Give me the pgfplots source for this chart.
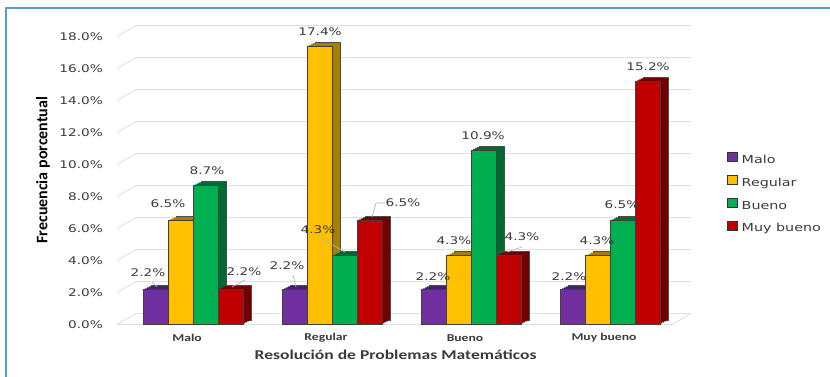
\documentclass[border=0pt]{standalone}
\usepackage{pgfplots}
\usepackage{pgfplotstable}
\pgfplotsset{compat=1.18}
\usepackage{fontspec}
\setmainfont{DejaVu Sans}
\newfontfamily\vf{DejaVu Sans}[FakeStretch=1.3]
\newfontfamily\cf{Carlito}[FakeStretch=1.3]
\newfontfamily\cfy{Carlito}

\definecolor{cpur}{HTML}{7030A0}\definecolor{dpur}{HTML}{4A1E6C}
\definecolor{cyel}{HTML}{FFC000}\definecolor{dyel}{HTML}{A87E00}
\definecolor{cgre}{HTML}{00B050}\definecolor{dgre}{HTML}{006B30}
\definecolor{cred}{HTML}{C00000}\definecolor{dred}{HTML}{730000}
\definecolor{gridc}{HTML}{DCE0E8}
\definecolor{leadc}{HTML}{A9B7C9}
\definecolor{framec}{HTML}{5B9BD5}
\definecolor{txt}{HTML}{3A3A3A}

% x = category (0 Malo, 1 Regular, 2 Bueno, 3 Muy bueno); y = percent; lx, ly = label offset (pt)
\pgfplotstableread{
x y lx ly
0 2.2 -7.5 16.3
1 2.2 -7.5 24
2 2.2 -0.5 13
3 2.2 -3.5 13
}\malo
\pgfplotstableread{
x y lx ly
0 6.5 -12.5 16.5
1 17.4 0.5 14
2 4.3 -4.5 14.7
3 4.3 -0.5 14.7
}\regular
\pgfplotstableread{
x y lx ly
0 8.7 1.5 14.3
1 4.3 -26.5 25.7
2 10.9 -0.5 14
3 6.5 -0.5 15.5
}\bueno
\pgfplotstableread{
x y lx ly
0 2.2 13.5 17.3
1 6.5 33.5 17.5
2 4.3 13.5 18.7
3 15.2 0.5 14.3
}\muybueno

\newcommand{\depth}[3]{% table, shift, dark colour
  \addplot[forget plot, fill=#3, draw=black!70, line width=0.4pt, bar shift=#2, xshift=8pt, yshift=4pt] table[x=x,y=y]{#1};
  \addplot[forget plot, fill=#3, draw=none, bar shift=#2, xshift=6pt, yshift=3pt] table[x=x,y=y]{#1};
  \addplot[forget plot, fill=#3, draw=none, bar shift=#2, xshift=4pt, yshift=2pt] table[x=x,y=y]{#1};
  \addplot[forget plot, fill=#3, draw=none, bar shift=#2, xshift=2pt, yshift=1pt] table[x=x,y=y]{#1};
}

\pgfplotsset{
  frontbar/.style={
    draw=black!75, line width=0.5pt, bar shift=#1,
    nodes near coords={\pgfmathprintnumber[fixed,fixed zerofill,precision=1]{\pgfplotspointmeta}\%},
    visualization depends on={\thisrow{lx} \as \lx},
    visualization depends on={\thisrow{ly} \as \ly},
    every node near coord/.append style={anchor=center, inner sep=0pt, xshift=\lx pt, yshift=\ly pt,
      font=\vf\fontsize{10.5}{12}\selectfont, text=txt},
  },
}

\begin{document}
\begin{tikzpicture}
\path[use as bounding box] (0,0) rectangle (830pt,377pt);
\draw[framec, line width=2pt] (6pt,0pt) -- (6pt,369pt) -- (831pt,369pt);

% back wall grid
\begin{axis}[
  at={(136pt,63.5pt)}, anchor=south west,
  scale only axis, width=555pt, height=288pt,
  xmin=-0.547, xmax=3.446, ymin=0, ymax=18,
  ytick={0,2,...,18}, yticklabels={}, xtick=\empty,
  ymajorgrids, grid style={gridc, line width=0.9pt},
  axis line style={draw=none}, major tick length=0pt,
]
\end{axis}

\begin{axis}[
  at={(117pt,52.5pt)}, anchor=south west,
  scale only axis, width=555pt, height=288pt,
  xmin=-0.547, xmax=3.446, ymin=0, ymax=18,
  ybar, bar width=25pt,
  /pgf/number format/assume math mode=true,
  axis line style={draw=none}, major tick length=0pt,
  ytick={0,2,...,18},
  yticklabel={\pgfmathprintnumber[fixed,fixed zerofill,precision=1]{\tick}\%},
  yticklabel style={anchor=east, inner sep=0pt, xshift=-14pt, font=\vf\fontsize{10.5}{12}\selectfont, text=txt},
  xtick={0,1,2,3}, xticklabels={Malo,Regular,Bueno,Muy bueno},
  xticklabel style={anchor=center, inner sep=0pt, yshift=-13.5pt, xshift=-6pt, font=\cf\bfseries\fontsize{10.5}{12}\selectfont, text=txt},
  xlabel={Resolución de Problemas Matemáticos},
  every axis x label/.style={at={(axis description cs:0.502,0)}, yshift=-30.5pt, anchor=center,
    font=\cf\bfseries\fontsize{13.5}{15}\selectfont, text=txt},
  ylabel={Frecuencia porcentual},
  every axis y label/.style={at={(axis description cs:0,0.536)}, xshift=-74pt, anchor=center, rotate=90,
    font=\cfy\bfseries\fontsize{16}{18}\selectfont, text=black},
  legend style={at={(axis description cs:1.099,0.599)}, anchor=north west, draw=none, fill=none,
    font=\vf\fontsize{11}{12}\selectfont, text=txt, row sep=9.5pt, inner sep=0pt,
    nodes={inner sep=0pt, text height=8pt, text depth=2pt},
    /tikz/every odd column/.append style={column sep=4pt}},
  legend cell align=left,
  legend image code/.code={\path[draw=black!80, line width=0.6pt, #1] (0pt,-1pt) rectangle (10pt,8pt);},
  clip=false,
]
% floor and slanted grid connectors
\pgfplotsinvokeforeach{0,2,...,18}{\draw[gridc, line width=0.9pt] (axis cs:-0.547,#1) -- ++(19pt,11pt);}
\draw[gridc, line width=0.9pt] (axis cs:-0.547,0) -- (axis cs:3.446,0) -- ++(19pt,11pt);

\depth{\malo}{-37.5pt}{dpur}
\addplot[fill=cpur, frontbar=-37.5pt] table[x=x,y=y]{\malo};
\addlegendentry{Malo}
\depth{\regular}{-12.5pt}{dyel}
\addplot[fill=cyel, frontbar=-12.5pt] table[x=x,y=y]{\regular};
\addlegendentry{Regular}
\depth{\bueno}{12.5pt}{dgre}
\addplot[fill=cgre, frontbar=12.5pt] table[x=x,y=y]{\bueno};
\addlegendentry{Bueno}
\depth{\muybueno}{37.5pt}{dred}
\addplot[fill=cred, frontbar=37.5pt] table[x=x,y=y]{\muybueno};
\addlegendentry{Muy bueno}

% leader lines of data labels
\draw[leadc, line width=0.7pt] ([shift={(-36pt,2.3pt)}]axis cs:0,2.2) -- ([shift={(-41pt,7.3pt)}]axis cs:0,2.2);
\draw[leadc, line width=0.7pt] ([shift={(39pt,2.3pt)}]axis cs:0,2.2) -- ([shift={(52pt,9.3pt)}]axis cs:0,2.2);
\draw[leadc, line width=0.7pt] ([shift={(-36pt,2.3pt)}]axis cs:1,2.2) -- ([shift={(-39pt,14.3pt)}]axis cs:1,2.2);
\draw[leadc, line width=0.7pt] ([shift={(13pt,3.7pt)}]axis cs:1,4.3) -- ([shift={(-12pt,17.7pt)}]axis cs:1,4.3);
\draw[leadc, line width=0.7pt] ([shift={(40pt,3.5pt)}]axis cs:1,6.5) -- ([shift={(44pt,17.5pt)}]axis cs:1,6.5) -- ([shift={(53pt,17.5pt)}]axis cs:1,6.5);
\draw[leadc, line width=0.7pt] ([shift={(36pt,3.7pt)}]axis cs:2,4.3) -- ([shift={(51pt,8.7pt)}]axis cs:2,4.3);
\end{axis}
\end{tikzpicture}
\end{document}
